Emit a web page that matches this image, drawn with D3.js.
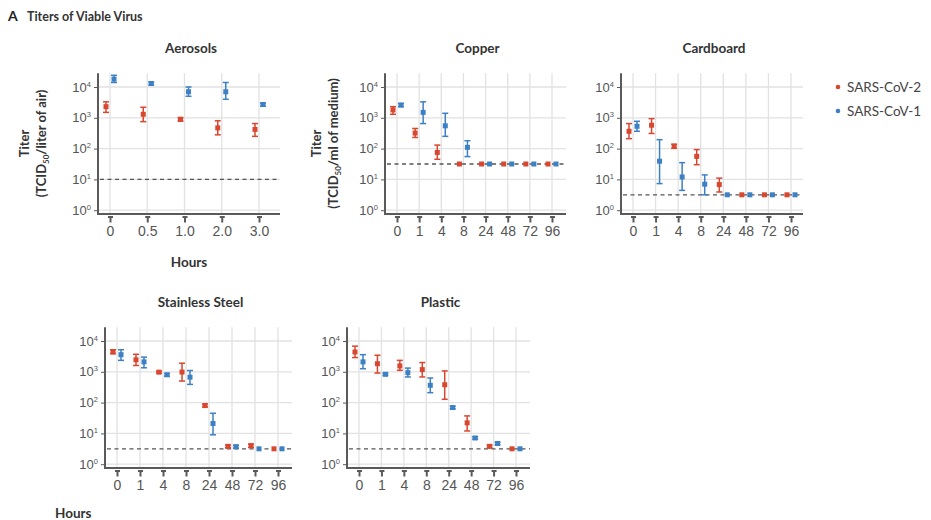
<!DOCTYPE html>
<html>
<head>
<meta charset="utf-8">
<script src="https://cdn.jsdelivr.net/npm/d3@7"></script>
<style>
  body { margin: 0; background: #fff; }
  svg { font-family: Lato, "Open Sans", sans-serif; }
  .grid line { stroke: #e2e2e2; stroke-width: 1.3; }
  .axis path, .axis line { stroke: #5a5a5a; }
  .axis path { stroke-width: 2; }
  .axis text { fill: #555; }
</style>
</head>
<body>
<div id="chart"></div>
<script>
// hours on the x axis
const aerosolHours = ["0", "0.5", "1.0", "2.0", "3.0"];
const surfaceHours = ["0", "1", "4", "8", "24", "48", "72", "96"];
const yTicks = [1, 10, 100, 1000, 10000];

// each point: [titer, lower error, upper error]
const aerosolsCov2 = [[2300, 1500, 3300], [1300, 750, 2200], [900, 780, 1000], [470, 280, 800], [420, 250, 650]];
const aerosolsCov1 = [[18000, 14000, 24000], [13000, 11500, 14500], [7000, 5000, 10000], [7000, 4000, 14000], [2700, 2400, 3000]];
const copperCov2 = [[1800, 1300, 2300], [320, 230, 450], [75, 45, 130], [31.6, 31.6, 31.6], [31.6, 31.6, 31.6], [31.6, 31.6, 31.6], [31.6, 31.6, 31.6], [31.6, 31.6, 31.6]];
const copperCov1 = [[2600, 2300, 2900], [1500, 650, 3300], [550, 250, 1400], [110, 55, 180], [31.6, 31.6, 31.6], [31.6, 31.6, 31.6], [31.6, 31.6, 31.6], [31.6, 31.6, 31.6]];
const cardboardCov2 = [[365, 210, 650], [575, 310, 940], [120, 102, 138], [56, 30, 93], [6.8, 3.9, 11], [3.16, 3.16, 3.16], [3.16, 3.16, 3.16], [3.16, 3.16, 3.16]];
const cardboardCov1 = [[530, 365, 770], [39, 7.3, 195], [12, 4.4, 35], [7, 3.16, 14], [3.16, 3.16, 3.16], [3.16, 3.16, 3.16], [3.16, 3.16, 3.16], [3.16, 3.16, 3.16]];
const steelCov2 = [[4400, 3900, 5200], [2450, 1600, 3700], [975, 900, 1050], [980, 500, 1900], [80, 72, 90], [3.8, 3.4, 4.2], [4.0, 3.5, 4.5], [3.16, 3.16, 3.16]];
const steelCov1 = [[3600, 2350, 5200], [2100, 1350, 3000], [800, 720, 880], [670, 390, 1100], [21, 9, 45], [3.7, 3.3, 4.1], [3.16, 3.16, 3.16], [3.16, 3.16, 3.16]];
const plasticCov2 = [[4400, 2900, 6800], [1830, 910, 3450], [1550, 1120, 2350], [1180, 680, 2000], [380, 128, 1070], [22, 12, 37], [3.8, 3.4, 4.2], [3.16, 3.16, 3.16]];
const plasticCov1 = [[2100, 1260, 3600], [830, 760, 900], [940, 680, 1320], [365, 210, 630], [69, 63, 76], [7.1, 6.5, 7.8], [4.7, 4.2, 5.2], [3.16, 3.16, 3.16]];

// dashed detection limits
const detectionLimits = {Aerosols: 10, Copper: 31.6, Cardboard: 3.16, "Stainless Steel": 3.16, Plastic: 3.16};

const seriesNames = ["SARS-CoV-2", "SARS-CoV-1"];
const colors = ["#d8472f", "#3d80c3"];

const svg = d3.select("#chart").append("svg")
  .attr("width", 931)
  .attr("height", 520);

svg.append("text")
  .attr("x", 8).attr("y", 21)
  .attr("font-size", 14).attr("font-weight", 700).attr("fill", "#222")
  .text("A");
svg.append("text")
  .attr("x", 27).attr("y", 21)
  .attr("font-size", 12.5).attr("font-weight", 700).attr("fill", "#333")
  .text("Titers of Viable Virus");

function panel(title, cats, cov2, cov1, geom) {
  const left = geom.L, top = geom.T;
  const right = left + geom.W;
  const y10k = top + 14;           // pixel row of 10^4
  const dec = 30.8;
  const y = d3.scaleLog()
    .domain([Math.pow(10, -0.12), Math.pow(10, 4.45)])
    .range([y10k + 4.12 * dec, y10k - 0.45 * dec]);
  const x = d3.scalePoint()
    .domain(cats)
    .range([left + 12, right - geom.pad]);
  const bottom = y.range()[0];

  const g = svg.append("g");

  // grid
  const grid = g.append("g").attr("class", "grid");
  grid.selectAll(".h").data(yTicks).enter().append("line")
    .attr("x1", left).attr("x2", right)
    .attr("y1", d => y(d)).attr("y2", d => y(d));
  grid.selectAll(".v").data(cats).enter().append("line")
    .attr("x1", d => x(d)).attr("x2", d => x(d))
    .attr("y1", y.range()[1]).attr("y2", bottom);

  // limit of detection
  g.append("line")
    .attr("x1", left + 2).attr("x2", right)
    .attr("y1", y(detectionLimits[title])).attr("y2", y(detectionLimits[title]))
    .attr("stroke", "#555").attr("stroke-width", 1.3)
    .attr("stroke-dasharray", "4,3.5");

  // axes
  const yAxis = d3.axisLeft(y).tickValues(yTicks).tickSize(4).tickSizeOuter(0).tickPadding(3);
  const xAxis = d3.axisBottom(x).tickSize(0).tickSizeOuter(0).tickPadding(12);

  const ya = g.append("g")
    .attr("class", "axis")
    .attr("transform", "translate(" + left + ",0)")
    .call(yAxis);
  ya.selectAll("text")
    .attr("font-size", 13)
    .each(function(d) {
      const t = d3.select(this);
      t.text("10");
      t.append("tspan").attr("dy", -5).attr("font-size", 7.5).text(Math.round(Math.log10(d)));
    });
  ya.select(".domain").attr("d", "M0," + (bottom + 1) + "V" + y.range()[1]);

  const xa = g.append("g")
    .attr("class", "axis")
    .attr("transform", "translate(0," + bottom + ")")
    .call(xAxis);
  xa.selectAll("text").attr("font-size", 14);
  // small ticks just under the axis
  xa.selectAll(".tick").append("path")
    .attr("d", "M0,2.5V8.5M-2.5,3H2.5")
    .attr("fill", "none").attr("stroke", "#999").attr("stroke-width", 1);
  xa.select(".domain").attr("d", "M" + (left - 1) + ",0H" + right);

  // points with error bars
  [cov2, cov1].forEach(function(series, si) {
    const off = si === 0 ? -4 : 4;
    const col = colors[si];
    const pts = g.append("g").selectAll("g").data(series).enter().append("g")
      .attr("transform", (d, i) => "translate(" + (x(cats[i]) + off) + ",0)");
    pts.filter(d => d[2] > d[1]).append("line")
      .attr("y1", d => y(d[1])).attr("y2", d => y(d[2]))
      .attr("stroke", col).attr("stroke-width", 1.5);
    pts.filter(d => d[2] > d[1]).append("line")
      .attr("x1", -3).attr("x2", 3)
      .attr("y1", d => y(d[1])).attr("y2", d => y(d[1]))
      .attr("stroke", col).attr("stroke-width", 1.5);
    pts.filter(d => d[2] > d[1]).append("line")
      .attr("x1", -3).attr("x2", 3)
      .attr("y1", d => y(d[2])).attr("y2", d => y(d[2]))
      .attr("stroke", col).attr("stroke-width", 1.5);
    pts.append("rect")
      .attr("x", -2.5).attr("width", 5)
      .attr("y", d => y(d[0]) - 2.5).attr("height", 5)
      .attr("fill", col);
  });

  g.append("text")
    .attr("x", (left + right) / 2 + 2).attr("y", top - 20)
    .attr("text-anchor", "middle")
    .attr("font-size", 13.5).attr("font-weight", 700).attr("fill", "#333")
    .text(title);

  if (geom.ylab) {
    const cy = (y.range()[0] + y.range()[1]) / 2;
    const lab = g.append("text")
      .attr("transform", "translate(" + geom.ylab[0] + "," + cy + ") rotate(-90)")
      .attr("text-anchor", "middle")
      .attr("font-size", 13).attr("font-weight", 700).attr("fill", "#333");
    lab.append("tspan").attr("x", 0).attr("dy", 0).text("Titer");
    lab.append("tspan").attr("x", 0).attr("dy", 17).text("(TCID");
    lab.append("tspan").attr("font-size", 8).attr("dy", 3).text("50");
    lab.append("tspan").attr("dy", -3).text(geom.ylab[1]);
  }
}

panel("Aerosols", aerosolHours, aerosolsCov2, aerosolsCov1,
  {L: 98, T: 73, W: 182, pad: 21, ylab: [29, "/liter of air)"]});
panel("Copper", surfaceHours, copperCov2, copperCov1,
  {L: 385, T: 73, W: 181, pad: 14, ylab: [321, "/ml of medium)"]});
panel("Cardboard", surfaceHours, cardboardCov2, cardboardCov1,
  {L: 621, T: 73, W: 182, pad: 12});
panel("Stainless Steel", surfaceHours, steelCov2, steelCov1,
  {L: 105, T: 327, W: 187, pad: 14});
panel("Plastic", surfaceHours, plasticCov2, plasticCov1,
  {L: 347, T: 327, W: 183, pad: 14});

// x axis titles
svg.append("text")
  .attr("x", 189).attr("y", 267)
  .attr("text-anchor", "middle")
  .attr("font-size", 13.5).attr("font-weight", 700).attr("fill", "#333")
  .text("Hours");
svg.append("text")
  .attr("x", 55).attr("y", 518)
  .attr("font-size", 13.5).attr("font-weight", 700).attr("fill", "#333")
  .text("Hours");

// legend
const legend = svg.append("g").selectAll("g").data(seriesNames).enter().append("g")
  .attr("transform", (d, i) => "translate(838," + (87 + i * 24) + ")");
legend.append("circle").attr("r", 2.3).attr("fill", (d, i) => colors[i]);
legend.append("text")
  .attr("x", 9).attr("dy", "0.35em")
  .attr("font-size", 13.5).attr("fill", "#444")
  .text(d => d);
</script>
</body>
</html>
